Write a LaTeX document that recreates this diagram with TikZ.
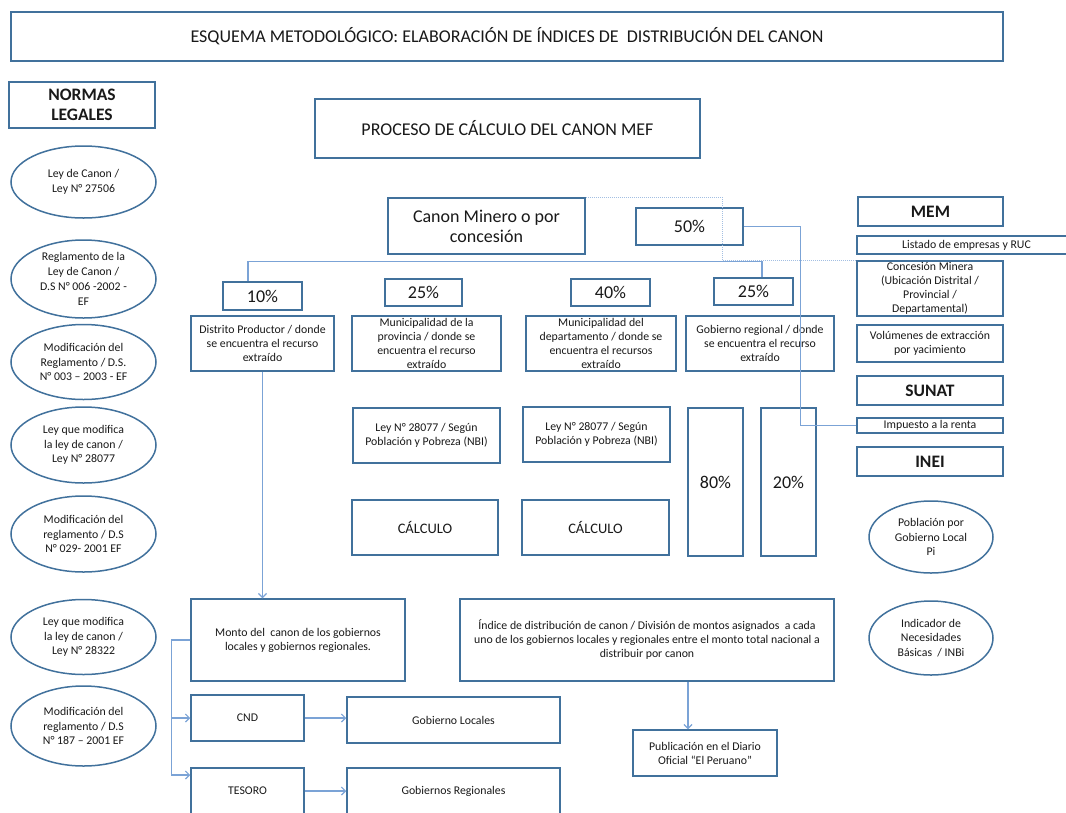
\documentclass[tikz,border=0pt]{standalone}
\usepackage{fontspec}
\setmainfont{Carlito}
\usetikzlibrary{shapes.geometric, arrows.meta}
\definecolor{boxblue}{HTML}{41719C}
\definecolor{lnkblue}{HTML}{7BA3D6}

\begin{document}
\begin{tikzpicture}[x=1pt, y=-1pt,
	bx/.style = {draw=boxblue, line width=1.5pt, fill=white, align=center, text=black!90, inner sep=1pt, font=\fontsize{11.8}{14}\selectfont},
	el/.style = {bx, ellipse, inner sep=-6pt, font=\fontsize{11.8}{14.8}\selectfont},
	bg/.style = {font=\fontsize{18}{20}\selectfont},
	hd/.style = {font=\fontsize{17.5}{20}\selectfont\bfseries},
	lk/.style = {draw=lnkblue, line width=1.2pt},
	ar/.style = {lk, -{Straight Barb[length=4pt, width=8pt]}},
	dt/.style = {draw=lnkblue!70, line width=1pt, densely dotted}]
			\useasboundingbox (0,0) rectangle (1066,812);

			\node[bx, bg, minimum width=992, minimum height=49] (title) at (507,36.5) {ESQUEMA METODOLÓGICO: ELABORACIÓN DE ÍNDICES DE \ DISTRIBUCIÓN DEL CANON};
			\node[bx, hd, minimum width=146, minimum height=46] (norm) at (82,105) {NORMAS\\LEGALES};
			\node[bx, bg, minimum width=385, minimum height=59] (proc) at (507.5,128.5) {PROCESO DE CÁLCULO DEL CANON MEF};

			\node[el, minimum width=145, minimum height=72] (n1) at (83.5,182) {Ley de Canon /\\Ley N° 27506};
			\node[el, minimum width=145, minimum height=78] (n2) at (83.5,279) {Reglamento de la\\Ley de Canon /\\D.S N° 006 -2002 -\\EF};
			\node[el, minimum width=145, minimum height=75] (n3) at (83.5,362) {Modificación del\\Reglamento / D.S.\\N° 003 – 2003 - EF};
			\node[el, minimum width=145, minimum height=76] (n4) at (83.5,445) {Ley que modifica\\la ley de canon /\\Ley N° 28077};
			\node[el, minimum width=145, minimum height=76] (n5) at (83.5,534) {Modificación del\\reglamento / D.S\\N° 029- 2001 EF};
			\node[el, minimum width=145, minimum height=75] (n6) at (83.5,637) {Ley que modifica\\la ley de canon /\\Ley N° 28322};
			\node[el, minimum width=145, minimum height=80] (n7) at (83.5,726) {Modificación del\\reglamento / D.S\\N° 187 – 2001 EF};

			\node[bx, bg, minimum width=197, minimum height=56] (canon) at (486.5,226) {Canon Minero o por\\concesión};
			\node[bx, bg, minimum width=107, minimum height=37] (p50) at (689.5,226.5) {50\%};

			\node[bx, bg, minimum width=79, minimum height=28] (p10) at (262.5,296) {10\%};
			\node[bx, bg, minimum width=77, minimum height=27] (p25a) at (423.5,292.5) {25\%};
			\node[bx, bg, minimum width=79, minimum height=27] (p40) at (610.5,292.5) {40\%};
			\node[bx, bg, minimum width=79, minimum height=27] (p25b) at (753.5,291.5) {25\%};

			\node[bx, minimum width=143, minimum height=55] (dist) at (262.5,343.5) {Distrito Productor / donde\\se encuentra el recurso\\extraído};
			\node[bx, minimum width=149, minimum height=55] (prov) at (426.5,343.5) {Municipalidad de la\\provincia / donde se\\encuentra el recurso\\extraído};
			\node[bx, minimum width=150, minimum height=55] (dep) at (601,343.5) {Municipalidad del\\departamento / donde se\\encuentra el recursos\\extraído};
			\node[bx, minimum width=148, minimum height=55] (greg1) at (760,343.5) {Gobierno regional / donde\\se encuentra el recurso\\extraído};

			\node[bx, minimum width=147, minimum height=55] (ley1) at (426.5,435.5) {Ley N° 28077 / Según\\Población y Pobreza (NBI)};
			\node[bx, minimum width=147, minimum height=55] (ley2) at (596.5,434.5) {Ley N° 28077 / Según\\Población y Pobreza (NBI)};
			\node[bx, bg, minimum width=55, minimum height=148] (p80) at (715.5,482) {80\%};
			\node[bx, bg, minimum width=55, minimum height=148] (p20) at (788.5,482) {20\%};
			\node[bx, font=\fontsize{14.5}{16}\selectfont, minimum width=146, minimum height=55] (calc1) at (425,527.5) {CÁLCULO};
			\node[bx, font=\fontsize{14.5}{16}\selectfont, minimum width=147, minimum height=55] (calc2) at (595.5,527.5) {CÁLCULO};

			\node[bx, hd, minimum width=145, minimum height=29] (mem) at (930.5,211.5) {MEM};
			\node[bx, minimum width=219, minimum height=18] (list) at (966.5,245) {Listado de empresas y RUC};
			\node[bx, minimum width=146, minimum height=55] (conc) at (930,288.5) {Concesión Minera\\(Ubicación Distrital /\\Provincial /\\Departamental)};
			\node[bx, minimum width=146, minimum height=37] (vol) at (930,343.5) {Volúmenes de extracción\\por yacimiento};
			\node[bx, hd, minimum width=146, minimum height=29] (sunat) at (930,390.5) {SUNAT};
			\node[bx, minimum width=146, minimum height=15] (imp) at (930,425.5) {Impuesto a la renta};
			\node[bx, hd, minimum width=146, minimum height=29] (inei) at (930,461.5) {INEI};
			\node[el, minimum width=124, minimum height=72] (pob) at (931,537) {Población por\\Gobierno Local\\Pi};
			\node[el, minimum width=124, minimum height=74] (nbi) at (931,638) {Indicador de\\Necesidades\\Básicas \ / INBi};

			\node[bx, minimum width=214, minimum height=82] (monto) at (298,640) {Monto del \ canon de los gobiernos\\locales y gobiernos regionales.};
			\node[bx, minimum width=374, minimum height=82] (indice) at (647,640) {Índice de distribución de canon / División de montos asignados \ a cada\\uno de los gobiernos locales y regionales entre el monto total nacional a\\distribuir por canon};
			\node[bx, minimum width=144, minimum height=46] (publ) at (705,753) {Publicación en el Diario\\Oficial “El Peruano”};
			\node[bx, minimum width=113, minimum height=46] (cnd) at (247.5,718) {CND};
			\node[bx, minimum width=213, minimum height=46] (gloc) at (453.5,720) {Gobierno Locales};
			\node[bx, minimum width=113, minimum height=46] (tes) at (247.5,791) {TESORO};
			\node[bx, minimum width=213, minimum height=46] (greg) at (453.5,791) {Gobiernos Regionales};

			\draw[dt] (canon.north east) -| ([xshift=-31.5pt, yshift=16pt]p25b.north) |- (conc.north west);
			\draw[lk] ([xshift=-14.5pt]p10.north) |- ([xshift=8.5pt, yshift=16pt]p25b.north) -- ([xshift=8.5pt]p25b.north);
			\draw[lk] (p50.east) -- ++(57,0) |- (imp.west);

			\draw[ar] (dist.south) -- (dist.south |- monto.north);
			\draw[ar] (monto.west) -- ++(-19,0) |- (cnd.west);
			\draw[ar] (monto.west) -- ++(-19,0) |- ([yshift=16pt]tes.west);
			\draw[ar] (cnd.east) -- (cnd.east -| gloc.west);
			\draw[ar] (tes.east) -- (greg.west);
			\draw[ar] ([xshift=41pt]indice.south) -- ([xshift=-17pt]publ.north);
\end{tikzpicture}
\end{document}
